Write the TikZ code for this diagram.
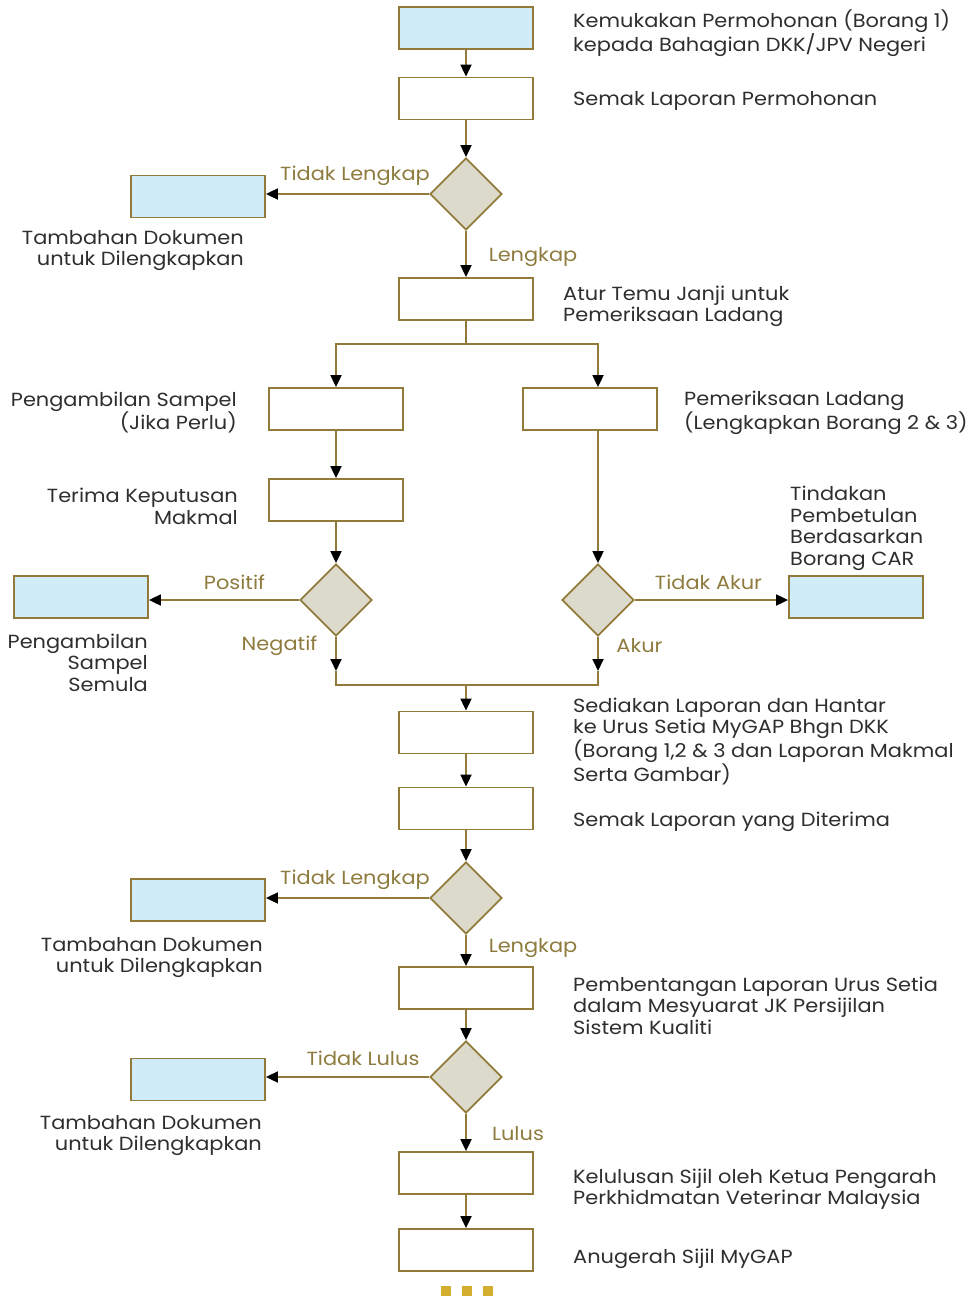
\documentclass[tikz,border=0pt]{standalone}
\usepackage{fontspec}
\setmainfont{Poppins}[FakeStretch=1.1]
\usetikzlibrary{arrows.meta,shapes.geometric}
\definecolor{brd}{HTML}{927A3A}
\definecolor{labc}{HTML}{8E7B3E}
\definecolor{lblue}{HTML}{D1ECF9}
\definecolor{dfill}{HTML}{DCDACA}
\definecolor{txtc}{HTML}{2E2E2E}
\definecolor{dotc}{HTML}{D4AE2E}
\newcommand{\tfont}{\fontsize{19}{21.5}\selectfont}
\begin{document}
\begin{tikzpicture}[x=1pt,y=1pt,
  box/.style={draw=brd, line width=1.8pt, minimum width=134pt, minimum height=42pt, inner sep=0pt, fill=white},
  bbox/.style={box, fill=lblue},
  dia/.style={diamond, draw=brd, fill=dfill, line width=1.8pt, minimum width=72pt, minimum height=72pt, inner sep=0pt},
  lab/.style={text=labc, font=\tfont, inner sep=0pt, yshift=-2.5pt},
  tl/.style={text=txtc, font=\tfont, align=left, anchor=west, inner sep=0pt, yshift=-2.5pt},
  tr/.style={text=txtc, font=\tfont, align=right, anchor=east, inner sep=0pt, yshift=-2.5pt},
  ln/.style={draw=brd, line width=1.8pt},
  arr/.style={ln, -{Triangle[length=12pt,width=11pt,color=black]}},
  dot/.style={fill=dotc, draw=none, minimum size=10pt, inner sep=0pt}
]
\useasboundingbox (0,0) rectangle (971,-1296);
% main column
\node[bbox] (b1) at (466,-28) {};
\node[box] (b2) at (466,-98.5) {};
\node[dia] (d1) at (466,-194) {};
\node[bbox] (l1) at (198,-196.5) {};
\node[box] (b3) at (466,-299) {};
\coordinate (sp) at (466,-344);
\node[box] (b4) at (336,-409) {};
\node[box] (b5) at (590,-409) {};
\node[box] (b6) at (336,-500) {};
\node[dia] (dl) at (336,-600) {};
\node[bbox] (pb) at (81,-597) {};
\node[dia] (dr) at (598,-600) {};
\node[bbox] (cb) at (856,-597) {};
\coordinate (ml) at (336,-671);
\coordinate (mr) at (598,-671);
\coordinate (jl) at (336,-685);
\coordinate (jr) at (598,-685);
\coordinate (jm) at (466,-685);
\node[box] (b7) at (466,-732.5) {};
\node[box] (b8) at (466,-808.5) {};
\node[dia] (d3) at (466,-898) {};
\node[bbox] (l3) at (198,-900) {};
\node[box] (b9) at (466,-988) {};
\node[dia] (d4) at (466,-1077) {};
\node[bbox] (l4) at (198,-1079.5) {};
\node[box] (b10) at (466,-1173) {};
\node[box] (b11) at (466,-1250) {};
\node[dot] (o1) at (446,-1291) {};
\node[dot] (o2) at (467,-1291) {};
\node[dot] (o3) at (488,-1291) {};
% connectors
\draw[arr] (b1.south) -- (b2.north);
\draw[arr] (b2.south) -- (d1.north);
\draw[arr] (d1.west) -- (d1.west -| l1.east);
\draw[arr] (d1.south) -- (b3.north);
\draw[ln] (b3.south) -- (sp);
\draw[arr] (sp) -| (b4.north);
\draw[arr] (sp) -| (b5.north -| dr.north);
\draw[arr] (b4.south) -- (b6.north);
\draw[arr] (b6.south) -- (dl.north);
\draw[arr] (dl.west) -- (dl.west -| pb.east);
\draw[arr] (b5.south -| dr.north) -- (dr.north);
\draw[arr] (dr.east) -- (dr.east -| cb.west);
\draw[arr] (dl.south) -- (ml);
\draw[arr] (dr.south) -- (mr);
\draw[ln] (ml) -- (jl) -- (jr) -- (mr);
\draw[arr] (jm) -- (b7.north);
\draw[arr] (b7.south) -- (b8.north);
\draw[arr] (b8.south) -- (d3.north);
\draw[arr] (d3.west) -- (d3.west -| l3.east);
\draw[arr] (d3.south) -- (b9.north);
\draw[arr] (b9.south) -- (d4.north);
\draw[arr] (d4.west) -- (d4.west -| l4.east);
\draw[arr] (d4.south) -- (b10.north);
\draw[arr] (b10.south) -- (b11.north);
% labels
\node[lab] (a1) at (355,-173) {Tidak Lengkap};
\node[lab] (a2) at (533,-255) {Lengkap};
\node[lab] (a3) at (234.5,-580) {Positif};
\node[lab] (a4) at (279.5,-643) {Negatif};
\node[lab] (a5) at (708.5,-580) {Tidak Akur};
\node[lab] (a6) at (639.5,-643) {Akur};
\node[lab] (a7) at (355,-877) {Tidak Lengkap};
\node[lab] (a8) at (533,-946) {Lengkap};
\node[lab] (a9) at (363,-1056) {Tidak Lulus};
\node[lab] (a10) at (518,-1131) {Lulus};
% texts
\node[tl] (t1) at (573,-31) {Kemukakan Permohonan (Borang 1)\\kepada Bahagian DKK/JPV Negeri};
\node[tl] (t2) at (573,-98) {Semak Laporan Permohonan};
\node[tr] (t3) at (244,-248) {Tambahan Dokumen\\untuk Dilengkapkan};
\node[tl] (t4) at (563,-304) {Atur Temu Janji untuk\\Pemeriksaan Ladang};
\node[tr] (t5) at (237,-410) {Pengambilan Sampel\\(Jika Perlu)};
\node[tl] (t6) at (684,-410) {Pemeriksaan Ladang\\(Lengkapkan Borang 2 \& 3)};
\node[tr] (t7) at (238,-504) {Terima Keputusan\\Makmal};
\node[tr] (t8) at (148,-660) {Pengambilan\\Sampel\\Semula};
\node[tl] (t9) at (790,-526) {Tindakan\\Pembetulan\\Berdasarkan\\Borang CAR};
\node[tl] (t10) at (573,-739) {Sediakan Laporan dan Hantar\\ke Urus Setia MyGAP Bhgn DKK\\(Borang 1,2 \& 3 dan Laporan Makmal\\Serta Gambar)};
\node[tl] (t11) at (573,-819) {Semak Laporan yang Diterima};
\node[tr] (t12) at (263,-955) {Tambahan Dokumen\\untuk Dilengkapkan};
\node[tl] (t13) at (573,-1003) {Pembentangan Laporan Urus Setia\\dalam Mesyuarat JK Persijilan\\Sistem Kualiti};
\node[tr] (t14) at (262,-1133) {Tambahan Dokumen\\untuk Dilengkapkan};
\node[tl] (t15) at (573,-1186.5) {Kelulusan Sijil oleh Ketua Pengarah\\Perkhidmatan Veterinar Malaysia};
\node[tl] (t16) at (573,-1256) {Anugerah Sijil MyGAP};
\end{tikzpicture}
\end{document}
